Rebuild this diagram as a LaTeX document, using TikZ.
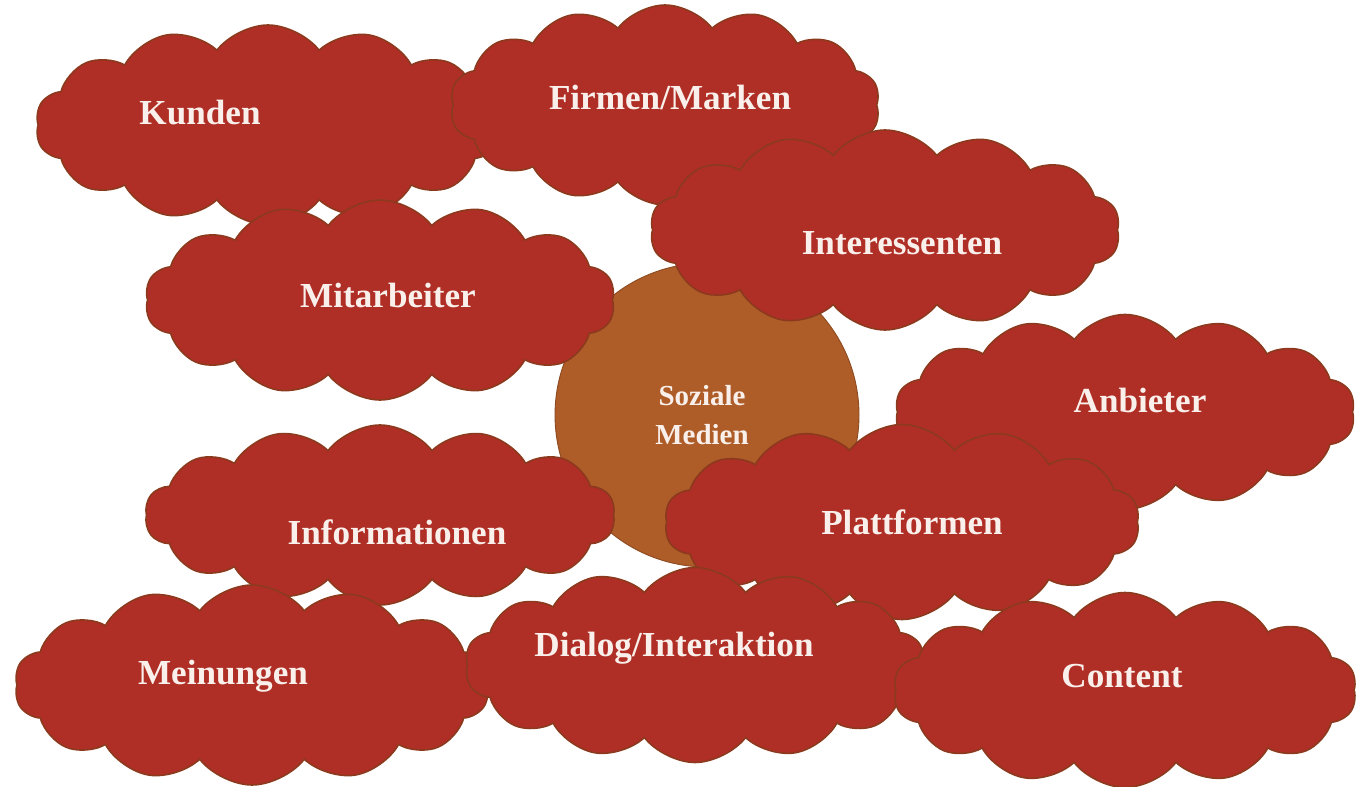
\documentclass[tikz,border=0pt]{standalone}
\usepackage{fontspec}
\setmainfont{Liberation Serif}
\usetikzlibrary{shapes.symbols}

\definecolor{wolke}{RGB}{175,46,38}
\definecolor{wolkenrand}{RGB}{140,58,30}
\definecolor{kreis}{RGB}{174,92,40}
\definecolor{schrift}{RGB}{250,240,235}

\tikzset{
  wolke/.style={cloud, cloud puffs=14, cloud puff arc=105, fill=wolke, draw=wolkenrand, line width=0.9pt, inner sep=0pt},
  beschrift/.style={text=schrift, font=\bfseries\fontsize{20}{24}\selectfont}
}

\begin{document}
\begin{tikzpicture}[x=0.02cm, y=-0.02cm]

		\useasboundingbox (0,0) rectangle (1356,787);

		\newcommand{\mkwolke}[8]{
			%die Wolke
			\pgfmathsetmacro{\verh}{#4/#5}
			\node[wolke, minimum width=#4*0.02cm, minimum height=#5*0.02cm, aspect=\verh] (#1) at (#2,#3) {};
			%der Text
			\node[beschrift] (#1-text) at (#7,#8) {#6};
		}

		%der Kreis in der Mitte
		\node[circle, fill=kreis, draw=kreis!80!black, line width=0.5pt, minimum size=304*0.02cm, inner sep=0pt] (mitte) at (707,415) {};
		\node[text=schrift, font=\bfseries\fontsize{16.5}{22}\selectfont, align=center] (mitte-text) at (702,415) {Soziale\\Medien};

		\mkwolke{kunden}{268}{125}{465}{200}{Kunden}{200}{113}
		\mkwolke{firmen}{665}{105}{430}{200}{Firmen/Marken}{670}{97}
		\mkwolke{interessenten}{885}{230}{470}{200}{Interessenten}{902}{243}
		\mkwolke{mitarbeiter}{380}{300}{470}{200}{Mitarbeiter}{388}{295}
		\mkwolke{anbieter}{1125}{412}{460}{195}{Anbieter}{1140}{400}
		\mkwolke{informationen}{380}{515}{470}{180}{Informationen}{397}{532}
		\mkwolke{plattformen}{902}{522}{475}{195}{Plattformen}{912}{522}
		\mkwolke{meinungen}{252}{685}{475}{200}{Meinungen}{223}{676}
		\mkwolke{dialog}{695}{665}{460}{195}{Dialog/Interaktion}{674}{648}
		\mkwolke{content}{1125}{690}{463}{195}{Content}{1122}{676}

\end{tikzpicture}
\end{document}
